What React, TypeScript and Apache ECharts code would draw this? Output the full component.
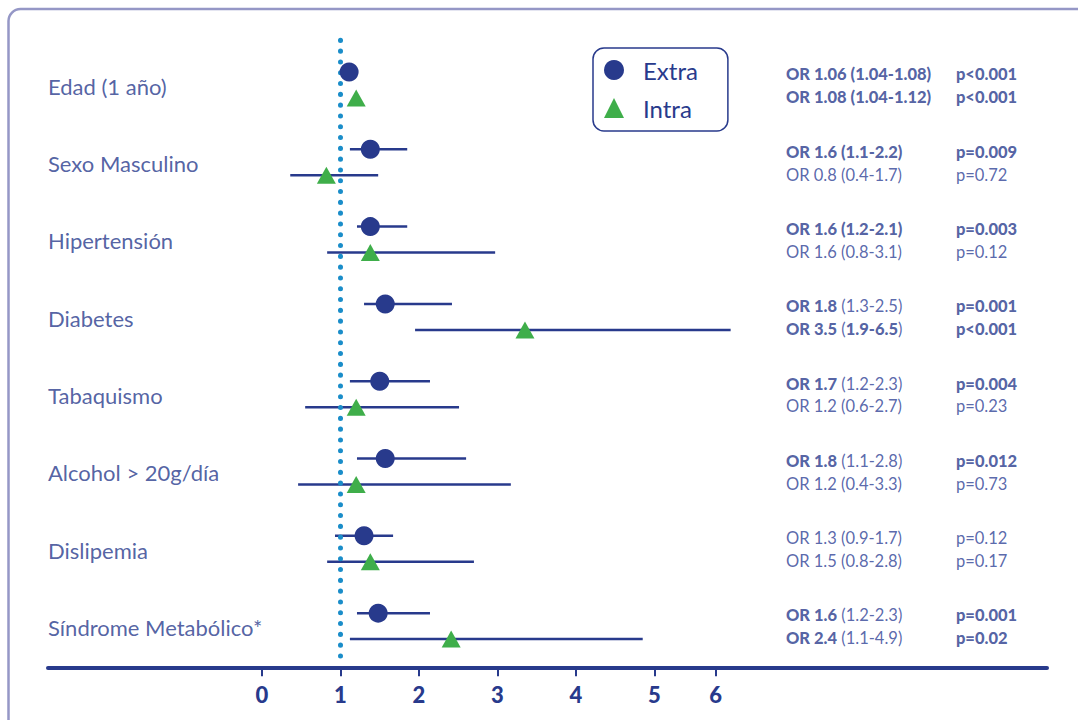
import React, { useEffect, useRef } from "react";
import * as echarts from "echarts";

const categories = [
  "Edad (1 año)",
  "Sexo Masculino",
  "Hipertensión",
  "Diabetes",
  "Tabaquismo",
  "Alcohol > 20g/día",
  "Dislipemia",
  "Síndrome Metabólico*",
];

// Positions as drawn in the picture (x scale of the figure)
const extraOR = [1.11, 1.38, 1.38, 1.57, 1.5, 1.57, 1.3, 1.48];
const extraLow = [1.08, 1.12, 1.21, 1.3, 1.12, 1.21, 0.93, 1.21];
const extraHigh = [1.14, 1.85, 1.85, 2.42, 2.14, 2.6, 1.67, 2.14];

const intraOR = [1.2, 0.82, 1.38, 3.35, 1.2, 1.2, 1.38, 2.41];
const intraLow = [1.17, 0.36, 0.83, 1.95, 0.55, 0.46, 0.83, 1.12];
const intraHigh = [1.23, 1.48, 2.97, 5.97, 2.51, 3.17, 2.7, 4.85];

const orExtraText = [
  "{b|OR 1.06 (1.04-1.08)}",
  "{b|OR 1.6 (1.1-2.2)}",
  "{b|OR 1.6 (1.2-2.1)}",
  "{b|OR 1.8} (1.3-2.5)",
  "{b|OR 1.7} (1.2-2.3)",
  "{b|OR 1.8} (1.1-2.8)",
  "OR 1.3 (0.9-1.7)",
  "{b|OR 1.6} (1.2-2.3)",
];
const orIntraText = [
  "{b|OR 1.08 (1.04-1.12)}",
  "OR 0.8 (0.4-1.7)",
  "OR 1.6 (0.8-3.1)",
  "{b|OR 3.5} ({b|1.9-6.5})",
  "OR 1.2 (0.6-2.7)",
  "OR 1.2 (0.4-3.3)",
  "OR 1.5 (0.8-2.8)",
  "{b|OR 2.4} (1.1-4.9)",
];
const pExtraText = [
  "{b|p<0.001}",
  "{b|p=0.009}",
  "{b|p=0.003}",
  "{b|p=0.001}",
  "{b|p=0.004}",
  "{b|p=0.012}",
  "p=0.12",
  "{b|p=0.001}",
];
const pIntraText = [
  "{b|p<0.001}",
  "p=0.72",
  "p=0.12",
  "{b|p<0.001}",
  "p=0.23",
  "p=0.73",
  "p=0.17",
  "{b|p=0.02}",
];

const tickValues = [0, 1, 2, 3, 4, 5, 5.78];
const tickLabels = ["0", "1", "2", "3", "4", "5", "6"];

const NAVY = "#283a8c";
const GREEN = "#3fae4a";
const FONT = "Lato, 'Open Sans', sans-serif";

const X_MIN = -2.726;
const X_MAX = 10;
const OR_COL = 6.675;
const P_COL = 8.84;
const INTRA_OFFSET = 0.336;
const LABEL_OFFSET = 0.185;

export default function App() {
  const ref = useRef<HTMLDivElement>(null);

  useEffect(() => {
    if (!ref.current) return;
    const chart = echarts.init(ref.current, null, { renderer: "svg" });

    const extraY = categories.map((_, i) => i);
    const intraY = categories.map((_, i) => i + INTRA_OFFSET);

    const ciData = [
      ...categories.map((_, i) => [extraLow[i], extraHigh[i], extraY[i]]),
      ...categories.map((_, i) => [intraLow[i], intraHigh[i], intraY[i]]),
    ];

    const textLabel = (fmt: (p: any) => string) => ({
      show: true,
      position: "right" as const,
      distance: 0,
      fontFamily: FONT,
      fontSize: 16.5,
      color: "#2f4296",
      formatter: fmt,
      rich: {
        b: { fontFamily: FONT, fontSize: 16.5, fontWeight: 900, color: NAVY },
      },
    });

    const option: any = {
      animation: false,
      graphic: [
        {
          type: "rect",
          silent: true,
          z: -10,
          shape: { x: 8.5, y: 9, width: 1100, height: 760, r: 12 },
          style: { fill: "none", stroke: "#9597c6", lineWidth: 2.5 },
        },
      ],
      grid: { left: 48, top: 33.35, width: 999, height: 633.9 },
      xAxis: {
        type: "value",
        min: X_MIN,
        max: X_MAX,
        splitLine: { show: false },
        axisLine: { show: true, onZero: false, lineStyle: { color: NAVY, width: 4 } },
        axisTick: {
          show: true,
          customValues: tickValues,
          length: 9,
          lineStyle: { color: NAVY, width: 2 },
        },
        axisLabel: {
          customValues: tickValues,
          formatter: (v: number) => {
            const idx = tickValues.findIndex((t) => Math.abs(t - v) < 1e-6);
            return idx >= 0 ? tickLabels[idx] : "";
          },
          margin: 16,
          fontFamily: FONT,
          fontSize: 22,
          fontWeight: 900,
          color: NAVY,
        },
      },
      yAxis: {
        type: "value",
        inverse: true,
        min: -0.5,
        max: 7.7,
        show: false,
      },
      legend: {
        data: ["Extra", "Intra"],
        orient: "vertical",
        left: 593,
        top: 48,
        padding: [10, 30, 11, 11],
        itemWidth: 20,
        itemHeight: 20,
        itemGap: 14,
        borderColor: NAVY,
        borderWidth: 1.5,
        borderRadius: 11,
        textStyle: {
          fontFamily: FONT,
          fontSize: 24,
          color: NAVY,
          padding: [0, 0, 0, 14],
        },
      },
      series: [
        {
          type: "custom",
          name: "CI",
          data: ciData,
          encode: { x: [0, 1], y: 2 },
          renderItem: (params: any, api: any) => {
            const lo = api.coord([api.value(0), api.value(2)]);
            const hi = api.coord([api.value(1), api.value(2)]);
            return {
              type: "line",
              shape: { x1: lo[0], y1: lo[1], x2: hi[0], y2: hi[1] },
              style: { stroke: NAVY, lineWidth: 2.5 },
            };
          },
          z: 2,
          silent: true,
          markLine: {
            silent: true,
            symbol: "none",
            label: { show: false },
            lineStyle: {
              color: "#1a8dc9",
              width: 5,
              type: [0.1, 10.7],
              cap: "round",
            },
            data: [[{ coord: [1, -0.41] }, { coord: [1, 7.606] }]],
          },
        },
        {
          type: "scatter",
          name: "Extra",
          symbol: "circle",
          symbolSize: 19,
          itemStyle: { color: NAVY, opacity: 1 },
          data: categories.map((_, i) => [extraOR[i], extraY[i]]),
          z: 5,
        },
        {
          type: "scatter",
          name: "Intra",
          symbol: "triangle",
          symbolSize: [19, 17],
          itemStyle: { color: GREEN, opacity: 1 },
          data: categories.map((_, i) => [intraOR[i], intraY[i]]),
          z: 5,
        },
        {
          type: "scatter",
          name: "rowLabels",
          symbolSize: 0,
          silent: true,
          data: categories.map((c, i) => ({ name: c, value: [X_MIN, i + LABEL_OFFSET] })),
          label: {
            show: true,
            position: "right",
            distance: 0,
            fontFamily: FONT,
            fontSize: 22,
            color: NAVY,
            formatter: (p: any) => p.name,
          },
        },
        {
          type: "scatter",
          name: "orExtra",
          symbolSize: 0,
          silent: true,
          data: categories.map((_, i) => [OR_COL, extraY[i] + 0.03]),
          label: textLabel((p: any) => orExtraText[p.dataIndex]),
        },
        {
          type: "scatter",
          name: "orIntra",
          symbolSize: 0,
          silent: true,
          data: categories.map((_, i) => [OR_COL, intraY[i] - 0.01]),
          label: textLabel((p: any) => orIntraText[p.dataIndex]),
        },
        {
          type: "scatter",
          name: "pExtra",
          symbolSize: 0,
          silent: true,
          data: categories.map((_, i) => [P_COL, extraY[i] + 0.03]),
          label: textLabel((p: any) => pExtraText[p.dataIndex]),
        },
        {
          type: "scatter",
          name: "pIntra",
          symbolSize: 0,
          silent: true,
          data: categories.map((_, i) => [P_COL, intraY[i] - 0.01]),
          label: textLabel((p: any) => pIntraText[p.dataIndex]),
        },
      ],
    };

    chart.setOption(option);
    return () => chart.dispose();
  }, []);

  return (
    <div
      ref={ref}
      style={{ position: "fixed", left: 0, top: 0, width: 1078, height: 720, background: "#fff" }}
    />
  );
}
